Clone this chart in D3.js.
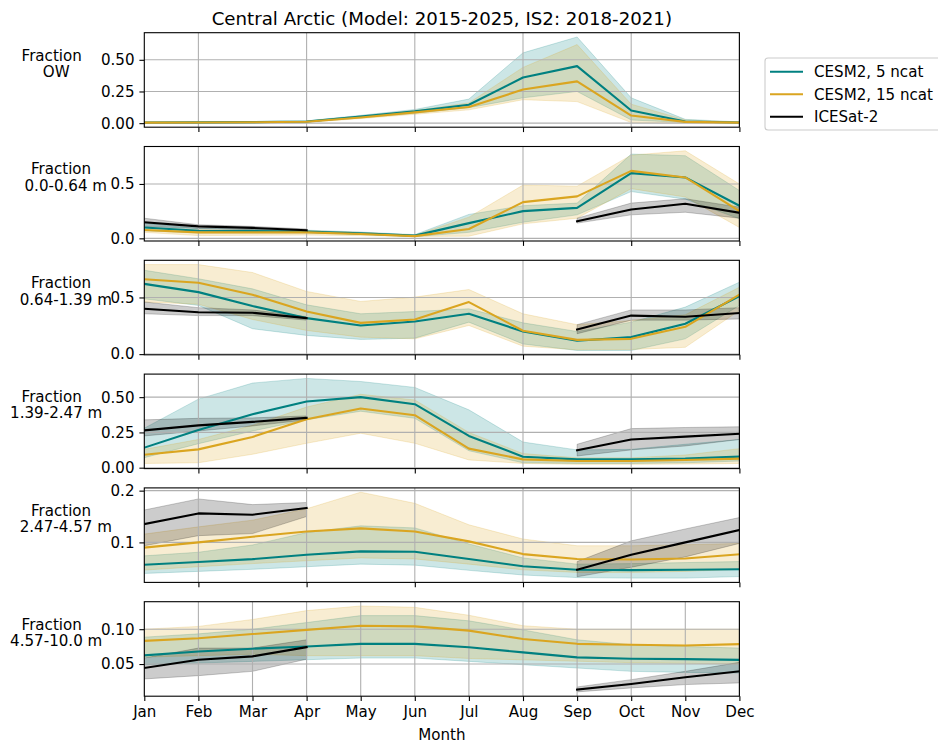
<!DOCTYPE html>
<html>
<head>
<meta charset="utf-8">
<script src="https://cdn.jsdelivr.net/npm/d3@7"></script>
<style>
  html, body { margin: 0; padding: 0; background: #fff; }
  svg { display: block; font-family: "DejaVu Sans", sans-serif; }
</style>
</head>
<body>
<svg id="chart" width="938" height="745"></svg>
<script>
// Months on the shared x axis
const months = ["Jan","Feb","Mar","Apr","May","Jun","Jul","Aug","Sep","Oct","Nov","Dec"];

// Open water fraction
const owNcat5   = [0.005,0.006,0.008,0.013,0.053,0.093,0.145,0.36,0.45,0.10,0.013,0.005];
const owNcat5Lo = [0.002,0.003,0.004,0.008,0.043,0.078,0.122,0.20,0.25,0.025,0.005,0.002];
const owNcat5Hi = [0.008,0.009,0.012,0.018,0.062,0.108,0.19,0.555,0.68,0.20,0.03,0.01];
const owNcat15   = [0.004,0.005,0.007,0.011,0.045,0.085,0.127,0.265,0.33,0.06,0.01,0.004];
const owNcat15Lo = [0.002,0.003,0.004,0.007,0.036,0.07,0.105,0.185,0.17,0.005,0.003,0.002];
const owNcat15Hi = [0.007,0.008,0.010,0.016,0.055,0.10,0.16,0.44,0.62,0.15,0.025,0.008];

// Thickness class 0.0-0.64 m
const c1Ncat5   = [0.10,0.07,0.068,0.062,0.046,0.025,0.14,0.25,0.28,0.60,0.56,0.30];
const c1Ncat5Lo = [0.07,0.05,0.05,0.05,0.035,0.015,0.055,0.148,0.216,0.43,0.36,0.18];
const c1Ncat5Hi = [0.14,0.093,0.085,0.075,0.058,0.034,0.22,0.30,0.324,0.775,0.76,0.44];
const c1Ncat15   = [0.077,0.055,0.055,0.055,0.04,0.02,0.086,0.333,0.386,0.62,0.56,0.25];
const c1Ncat15Lo = [0.055,0.025,0.028,0.03,0.025,0.018,0.02,0.133,0.185,0.457,0.38,0.10];
const c1Ncat15Hi = [0.10,0.08,0.075,0.07,0.055,0.028,0.195,0.49,0.48,0.765,0.805,0.50];
const c1Is2   = [0.148,0.11,0.096,0.074,null,null,null,null,0.157,0.265,0.318,0.235];
const c1Is2Lo = [0.11,0.09,0.08,0.062,null,null,null,null,0.14,0.216,0.24,0.185];
const c1Is2Hi = [0.185,0.125,0.11,0.086,null,null,null,null,0.185,0.324,0.364,0.287];

// Thickness class 0.64-1.39 m
const c2Ncat5   = [0.62,0.547,0.424,0.318,0.253,0.288,0.356,0.20,0.118,0.15,0.268,0.512];
const c2Ncat5Lo = [0.488,0.43,0.224,0.165,0.13,0.141,0.282,0.09,0.032,0.032,0.135,0.43];
const c2Ncat5Hi = [0.74,0.665,0.576,0.435,0.356,0.376,0.40,0.276,0.20,0.282,0.415,0.635];
const c2Ncat15   = [0.66,0.63,0.524,0.376,0.276,0.306,0.459,0.206,0.126,0.135,0.241,0.524];
const c2Ncat15Lo = [0.46,0.44,0.306,0.209,0.15,0.135,0.253,0.07,0.038,0.041,0.06,0.385];
const c2Ncat15Hi = [0.79,0.79,0.72,0.553,0.465,0.503,0.57,0.356,0.26,0.297,0.347,0.59];
const c2Is2   = [0.40,0.37,0.365,0.318,null,null,null,null,0.218,0.34,0.33,0.362];
const c2Is2Lo = [0.356,0.34,0.34,0.30,null,null,null,null,0.18,0.30,0.30,0.31];
const c2Is2Hi = [0.46,0.41,0.39,0.33,null,null,null,null,0.26,0.39,0.39,0.41];

// Thickness class 1.39-2.47 m
const c3Ncat5   = [0.142,0.268,0.379,0.469,0.50,0.45,0.225,0.078,0.059,0.059,0.064,0.078];
const c3Ncat5Lo = [0.071,0.17,0.26,0.34,0.40,0.35,0.12,0.035,0.03,0.03,0.035,0.047];
const c3Ncat5Hi = [0.28,0.486,0.60,0.633,0.611,0.569,0.41,0.182,0.126,0.13,0.166,0.20];
const c3Ncat15   = [0.092,0.13,0.218,0.344,0.42,0.372,0.135,0.059,0.047,0.047,0.055,0.064];
const c3Ncat15Lo = [0.03,0.035,0.095,0.173,0.244,0.173,0.055,0.03,0.024,0.024,0.026,0.03];
const c3Ncat15Hi = [0.13,0.20,0.30,0.43,0.52,0.48,0.25,0.10,0.07,0.07,0.09,0.135];
const c3Is2   = [0.265,0.30,0.325,0.353,null,null,null,null,0.123,0.20,0.22,0.24];
const c3Is2Lo = [0.225,0.26,0.296,0.339,null,null,null,null,0.083,0.126,0.154,0.20];
const c3Is2Hi = [0.339,0.35,0.353,0.367,null,null,null,null,0.166,0.277,0.285,0.29];

// Thickness class 2.47-4.57 m
const c4Ncat5   = [0.0568,0.062,0.0677,0.076,0.0826,0.082,0.068,0.054,0.047,0.0465,0.047,0.048];
const c4Ncat5Lo = [0.04,0.044,0.048,0.053,0.058,0.056,0.046,0.037,0.032,0.031,0.031,0.034];
const c4Ncat5Hi = [0.074,0.081,0.095,0.119,0.132,0.128,0.097,0.07,0.058,0.059,0.061,0.063];
const c4Ncat15   = [0.09,0.10,0.111,0.121,0.127,0.121,0.102,0.0774,0.068,0.067,0.069,0.077];
const c4Ncat15Lo = [0.0465,0.053,0.059,0.0645,0.07,0.068,0.058,0.047,0.042,0.042,0.044,0.048];
const c4Ncat15Hi = [0.116,0.13,0.143,0.165,0.197,0.1755,0.134,0.1065,0.0935,0.0935,0.0955,0.098];
const c4Is2   = [0.1355,0.156,0.1535,0.1665,null,null,null,null,0.047,0.076,0.10,0.124];
const c4Is2Lo = [0.0935,0.113,0.117,0.15,null,null,null,null,0.0335,0.052,0.072,0.098];
const c4Is2Hi = [0.1626,0.184,0.173,0.177,null,null,null,null,0.063,0.103,0.126,0.148];

// Thickness class 4.57-10.0 m
const c5Ncat5   = [0.0624,0.068,0.072,0.0752,0.079,0.079,0.074,0.0667,0.0595,0.0576,0.057,0.056];
const c5Ncat5Lo = [0.049,0.0514,0.0538,0.0562,0.0586,0.0586,0.0538,0.049,0.0443,0.0395,0.038,0.037];
const c5Ncat5Hi = [0.0886,0.0933,0.10,0.1095,0.1195,0.1195,0.112,0.099,0.0848,0.0776,0.0752,0.0729];
const c5Ncat15   = [0.0833,0.087,0.093,0.099,0.105,0.104,0.098,0.086,0.079,0.0776,0.0767,0.0786];
const c5Ncat15Lo = [0.060,0.062,0.064,0.062,0.062,0.062,0.058,0.056,0.054,0.052,0.051,0.050];
const c5Ncat15Hi = [0.10,0.104,0.114,0.1267,0.1333,0.1314,0.12,0.105,0.10,0.10,0.10,0.10];
const c5Is2   = [0.0443,0.0562,0.061,0.0743,null,null,null,null,0.0133,0.0214,0.031,0.0395];
const c5Is2Lo = [0.0286,0.0333,0.0395,0.057,null,null,null,null,0.01,0.0157,0.0205,0.0229];
const c5Is2Hi = [0.0586,0.0729,0.0729,0.0848,null,null,null,null,0.0171,0.0276,0.0395,0.0524];

// Row labels and y ticks
const rowLabels = [
  ["Fraction","OW"],
  ["Fraction","0.0-0.64 m"],
  ["Fraction","0.64-1.39 m"],
  ["Fraction","1.39-2.47 m"],
  ["Fraction","2.47-4.57 m"],
  ["Fraction","4.57-10.0 m"]
];
const yTicks = [
  [0, 0.25, 0.5],
  [0, 0.5],
  [0, 0.5],
  [0, 0.25, 0.5],
  [0.1, 0.2],
  [0.05, 0.10]
];
const yTickLabels = [
  ["0.00","0.25","0.50"],
  ["0.0","0.5"],
  ["0.0","0.5"],
  ["0.00","0.25","0.50"],
  ["0.1","0.2"],
  ["0.05","0.10"]
];
const seriesNames = ["CESM2, 5 ncat","CESM2, 15 ncat","ICESat-2"];
const titleText = "Central Arctic (Model: 2015-2025, IS2: 2018-2021)";
const xLabelText = "Month";

// Assemble the panels
const panels = [
  {m5:[owNcat5,owNcat5Lo,owNcat5Hi], m15:[owNcat15,owNcat15Lo,owNcat15Hi], obs:null},
  {m5:[c1Ncat5,c1Ncat5Lo,c1Ncat5Hi], m15:[c1Ncat15,c1Ncat15Lo,c1Ncat15Hi], obs:[c1Is2,c1Is2Lo,c1Is2Hi]},
  {m5:[c2Ncat5,c2Ncat5Lo,c2Ncat5Hi], m15:[c2Ncat15,c2Ncat15Lo,c2Ncat15Hi], obs:[c2Is2,c2Is2Lo,c2Is2Hi]},
  {m5:[c3Ncat5,c3Ncat5Lo,c3Ncat5Hi], m15:[c3Ncat15,c3Ncat15Lo,c3Ncat15Hi], obs:[c3Is2,c3Is2Lo,c3Is2Hi]},
  {m5:[c4Ncat5,c4Ncat5Lo,c4Ncat5Hi], m15:[c4Ncat15,c4Ncat15Lo,c4Ncat15Hi], obs:[c4Is2,c4Is2Lo,c4Is2Hi]},
  {m5:[c5Ncat5,c5Ncat5Lo,c5Ncat5Hi], m15:[c5Ncat15,c5Ncat15Lo,c5Ncat15Hi], obs:[c5Is2,c5Is2Lo,c5Is2Hi]}
];

// Layout and style
const colors = {m5: "#008080", m15: "#DAA520", obs: "#000000"};
const FONT = 15.1;
const TITLE_FONT = 18.2;
const plotLeft = 144.3, plotRight = 739.4;
const firstTop = 32.7, panelH = 94.5, panelStep = 113.8;
const tickLen = 4.9, tickPad = 4.9;
const gridColor = "#b0b0b0";
const lineW = 2.1;
// centre x of the two label lines, by tick label width
const labelCx = [[51.7,56.2],[61,65.8],[61,65.8],[51.7,56.2],[61,65.8],[51.7,56.2]];

const svg = d3.select("#chart");
const x = d3.scaleLinear().domain([0, 11]).range([plotLeft, plotRight]);
const idx = d3.range(12);

svg.append("text")
  .attr("x", (plotLeft + plotRight) / 2).attr("y", 24.5)
  .attr("text-anchor", "middle").attr("font-size", TITLE_FONT).attr("fill", "#000")
  .text(titleText);

panels.forEach((p, k) => {
  const top = firstTop + k * panelStep;
  const bottom = top + panelH;
  const isLast = k === panels.length - 1;

  // autoscale with 5% margins like the plotting default
  const vals = [];
  [p.m5, p.m15, p.obs].forEach(s => { if (s) s.forEach(a => a.forEach(v => { if (v != null) vals.push(v); })); });
  const [lo, hi] = d3.extent(vals);
  const pad = (hi - lo) * 0.05;
  const y = d3.scaleLinear().domain([lo - pad, hi + pad]).range([bottom, top]);

  const g = svg.append("g");
  const clipId = "clip" + k;
  g.append("clipPath").attr("id", clipId).append("rect")
    .attr("x", plotLeft).attr("y", top).attr("width", plotRight - plotLeft).attr("height", panelH);

  const plot = g.append("g").attr("clip-path", `url(#${clipId})`);

  const area = s => d3.area()
    .defined(i => s[1][i] != null && s[2][i] != null)
    .x(i => x(i)).y0(i => y(s[1][i])).y1(i => y(s[2][i]));
  const line = s => d3.line()
    .defined(i => s[0][i] != null)
    .x(i => x(i)).y(i => y(s[0][i]));

  // uncertainty bands
  [["m5", p.m5], ["m15", p.m15], ["obs", p.obs]].forEach(([key, s]) => {
    if (!s) return;
    plot.append("path").datum(idx).attr("d", area(s))
      .attr("fill", colors[key]).attr("fill-opacity", 0.2)
      .attr("stroke", colors[key]).attr("stroke-opacity", 0.2).attr("stroke-width", 1);
  });

  // grid
  const xGrid = isLast ? idx : idx.filter(i => i % 2 === 1);
  plot.selectAll(null).data(xGrid).enter().append("line")
    .attr("x1", d => x(d)).attr("x2", d => x(d)).attr("y1", top).attr("y2", bottom)
    .attr("stroke", gridColor).attr("stroke-width", 1.1);
  plot.selectAll(null).data(yTicks[k]).enter().append("line")
    .attr("x1", plotLeft).attr("x2", plotRight).attr("y1", d => y(d)).attr("y2", d => y(d))
    .attr("stroke", gridColor).attr("stroke-width", 1.1);

  // mean lines
  [["m5", p.m5], ["m15", p.m15], ["obs", p.obs]].forEach(([key, s]) => {
    if (!s) return;
    plot.append("path").datum(idx).attr("d", line(s))
      .attr("fill", "none").attr("stroke", colors[key]).attr("stroke-width", lineW)
      .attr("stroke-linejoin", "round").attr("stroke-linecap", "square");
  });

  // frame
  g.append("rect").attr("x", plotLeft).attr("y", top)
    .attr("width", plotRight - plotLeft).attr("height", panelH)
    .attr("fill", "none").attr("stroke", "#000").attr("stroke-width", 1.1);

  // y axis
  const yAxis = d3.axisLeft(y).tickValues(yTicks[k])
    .tickFormat((d, i) => yTickLabels[k][i]).tickSize(tickLen).tickPadding(tickPad);
  const ya = g.append("g").attr("transform", `translate(${plotLeft},0)`).call(yAxis);
  ya.select(".domain").remove();
  ya.selectAll("line").attr("stroke", "#000").attr("stroke-width", 1.1);
  ya.selectAll("text").attr("font-size", FONT).attr("font-family", "DejaVu Sans").attr("fill", "#000");

  // x axis
  const xTickVals = isLast ? idx : idx.filter(i => i % 2 === 1);
  const xAxis = d3.axisBottom(x).tickValues(xTickVals)
    .tickFormat(d => isLast ? months[d] : "").tickSize(tickLen).tickPadding(tickPad);
  const xa = g.append("g").attr("transform", `translate(0,${bottom})`).call(xAxis);
  xa.select(".domain").remove();
  xa.selectAll("line").attr("stroke", "#000").attr("stroke-width", 1.1);
  xa.selectAll("text").attr("font-size", FONT).attr("font-family", "DejaVu Sans").attr("fill", "#000");

  // row label
  const pc = (top + bottom) / 2;
  rowLabels[k].forEach((t, j) => {
    g.append("text").attr("x", labelCx[k][j]).attr("y", pc - 19.3 + j * 16.3)
      .attr("text-anchor", "middle").attr("font-size", FONT).attr("fill", "#000").text(t);
  });
});

svg.append("text")
  .attr("x", (plotLeft + plotRight) / 2).attr("y", 739.5)
  .attr("text-anchor", "middle").attr("font-size", FONT).attr("fill", "#000")
  .text(xLabelText);

// legend
const lg = svg.append("g");
lg.append("rect").attr("x", 765).attr("y", 58).attr("width", 190).attr("height", 72)
  .attr("rx", 3).attr("fill", "#fff").attr("fill-opacity", 0.8)
  .attr("stroke", "#cccccc").attr("stroke-width", 1.1);
["m5","m15","obs"].forEach((key, i) => {
  const cy = 71.7 + i * 22.5;
  lg.append("line").attr("x1", 770).attr("x2", 803).attr("y1", cy).attr("y2", cy)
    .attr("stroke", colors[key]).attr("stroke-width", lineW);
  lg.append("text").attr("x", 814).attr("y", cy + 5.4)
    .attr("font-size", FONT).attr("fill", "#000").text(seriesNames[i]);
});
</script>
</body>
</html>
